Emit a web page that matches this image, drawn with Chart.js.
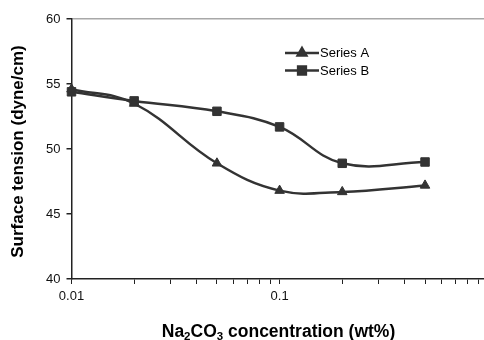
<!DOCTYPE html>
<html>
<head>
<meta charset="utf-8">
<script src="https://cdn.jsdelivr.net/npm/chart.js@4.4.0/dist/chart.umd.min.js"></script>
<style>
  html, body { margin:0; padding:0; background:#fff; }
  #wrap { width:484px; height:340px; }
</style>
</head>
<body>
<div id="wrap"><canvas id="chart" width="484" height="340"></canvas></div>
<script>
// concentration (wt%) and surface tension (dyne/cm)
var concentration = [0.01, 0.02, 0.05, 0.1, 0.2, 0.5];
var seriesA = [54.6, 53.5, 48.9, 46.8, 46.7, 47.2];
var seriesB = [54.4, 53.7, 52.9, 51.7, 48.9, 49.0];
var seriesNames = ['Series A', 'Series B'];
var xLabels = ['0.01', '0.1'];
var yTicks = [40, 45, 50, 55, 60];

var FONT = '"Liberation Sans", Arial, sans-serif';
var INK = '#333333';

function toPoints(xs, ys){
  return xs.map((x, i) => ({x: x, y: ys[i]}));
}

// titles + legend drawn by hand (subscripts, line+marker keys)
var decorations = {
  id: 'decorations',
  afterDraw(chart){
    let c = chart.ctx;
    c.save();
    c.fillStyle = '#000';

    // y title
    c.save();
    c.translate(18.5, 151.5);
    c.rotate(-Math.PI/2);
    c.font = 'bold 17px ' + FONT;
    c.textAlign = 'center';
    c.textBaseline = 'middle';
    c.fillText('Surface tension (dyne/cm)', 0, 0);
    c.restore();

    // x title with subscripts
    let parts = [['Na', false], ['2', true], ['CO', false], ['3', true], [' concentration (wt%)', false]];
    let big = 'bold 17.5px ' + FONT, small = 'bold 11.5px ' + FONT;
    let total = 0;
    parts.forEach(p => { c.font = p[1] ? small : big; total += c.measureText(p[0]).width; });
    let x = 278.5 - total/2, base = 337;
    c.textAlign = 'left';
    c.textBaseline = 'alphabetic';
    parts.forEach(p => {
      c.font = p[1] ? small : big;
      c.fillText(p[0], x, p[1] ? base + 3 : base);
      x += c.measureText(p[0]).width;
    });

    // legend
    let styles = ['triangle', 'rect'];
    let sizes = [5, 5.5];
    let rows = [53, 70.5];
    chart.data.datasets.forEach((ds, i) => {
      let y = rows[i];
      c.strokeStyle = INK;
      c.lineWidth = 2.5;
      c.beginPath();
      c.moveTo(285, y);
      c.lineTo(319, y);
      c.stroke();
      Chart.helpers.drawPoint(c, {pointStyle: styles[i], radius: sizes[i], borderWidth: 1, rotation: 0}, 302, y);
      c.fillStyle = INK;
      c.fill();
      c.fillStyle = '#000';
      c.font = '13px ' + FONT;
      c.textBaseline = 'middle';
      c.fillText(ds.label, 320, y + 0.5);
    });
    c.restore();
  }
};

new Chart(document.getElementById('chart'), {
  type: 'line',
  data: {
    datasets: [
      {
        label: seriesNames[0],
        data: toPoints(concentration, seriesA),
        borderColor: INK,
        backgroundColor: INK,
        borderWidth: 2.5,
        pointStyle: 'triangle',
        pointRadius: 5.5,
        pointBorderWidth: 1,
        tension: 0.4,
        clip: false
      },
      {
        label: seriesNames[1],
        data: toPoints(concentration, seriesB),
        borderColor: INK,
        backgroundColor: INK,
        borderWidth: 2.5,
        pointStyle: 'rect',
        pointRadius: 6,
        pointBorderWidth: 1,
        tension: 0.4,
        clip: false
      }
    ]
  },
  options: {
    responsive: false,
    animation: false,
    layout: { autoPadding: false, padding: { top: 19, right: 0, left: 0, bottom: 0 } },
    plugins: {
      legend: { display: false },
      tooltip: { enabled: false }
    },
    scales: {
      x: {
        type: 'logarithmic',
        min: 0.01,
        max: 0.96,
        afterFit: s => { s.height = 61; s.paddingLeft = 0; s.paddingRight = 0; },
        border: { color: '#222', width: 1.5 },
        grid: { drawOnChartArea: false, drawTicks: true, tickLength: 5, tickColor: '#222' },
        ticks: {
          autoSkip: false,
          maxRotation: 0,
          padding: 5,
          color: '#111',
          font: { family: FONT, size: 13 },
          callback: function(value){
            let lbl = xLabels.find(t => Math.abs(parseFloat(t) - value) < 1e-9);
            if (lbl) return lbl;
            let m = value / Math.pow(10, Math.floor(Math.log10(value) + 1e-9));
            return Math.abs(m - Math.round(m)) < 1e-6 ? '' : null;
          }
        }
      },
      y: {
        min: 40,
        max: 60,
        afterFit: s => { s.width = 71.5; },
        afterBuildTicks: s => { s.ticks = yTicks.map(v => ({value: v})); },
        border: { color: '#222', width: 1.5 },
        grid: {
          drawTicks: true,
          tickLength: 5,
          tickColor: '#222',
          lineWidth: 1.5,
          color: ctx => (ctx.tick && ctx.tick.value === 60) ? '#a8a8a8' : 'rgba(0,0,0,0)'
        },
        ticks: {
          padding: 6,
          color: '#111',
          font: { family: FONT, size: 13 }
        }
      }
    }
  },
  plugins: [decorations]
});
</script>
</body>
</html>
